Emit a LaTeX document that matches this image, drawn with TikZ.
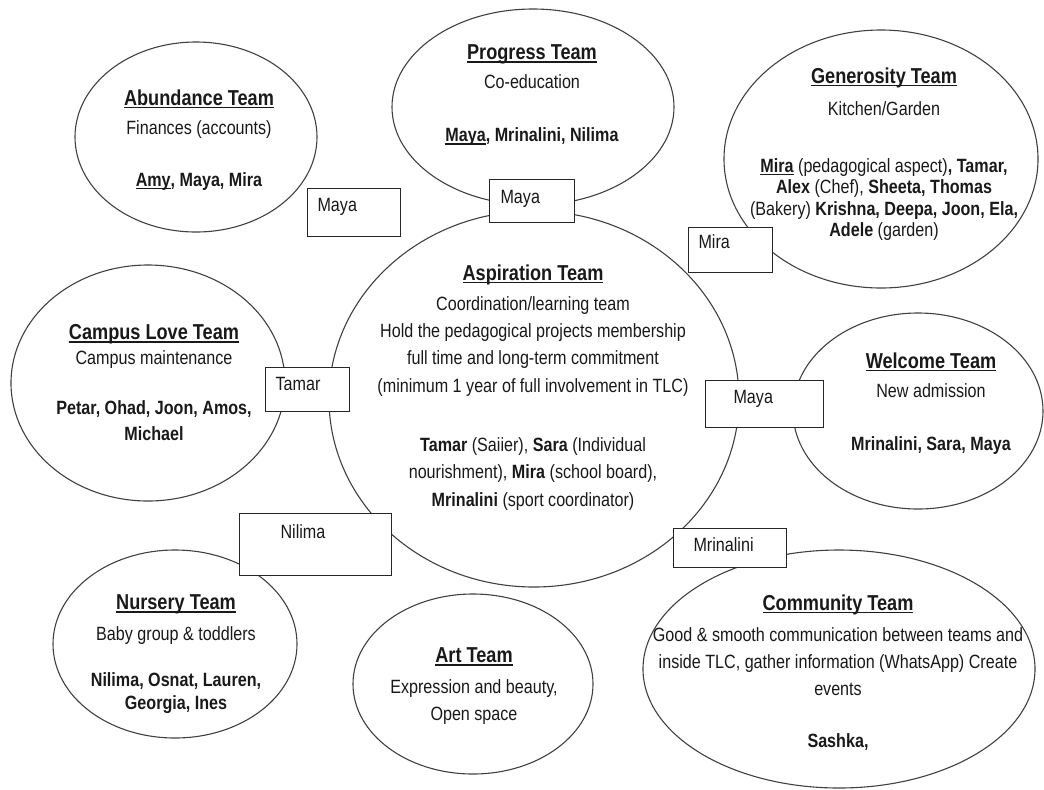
\documentclass[tikz,border=0pt]{standalone}
\usepackage{fontspec}
\setmainfont{Liberation Sans}[FakeStretch=0.84]
\usetikzlibrary{shapes.geometric}

% underline close to the baseline
\newcommand{\teamline}[1]{\leavevmode\setbox0\hbox{#1}\rlap{\rule[-1.7pt]{\wd0}{0.7pt}}\box0\relax}
\newcommand{\teamtitle}[1]{{\fontsize{10.8}{13}\selectfont\bfseries\teamline{#1}}}
\newcommand{\bodysize}[1]{\fontsize{9.6}{#1}\selectfont}

\begin{document}
\begin{tikzpicture}[x=0.5pt, y=-0.5pt,
    team/.style={ellipse, draw=black!75, line width=0.55pt, inner sep=0pt},
    teamtext/.style={anchor=north, align=center, inner sep=0pt, text=black!90},
    tagbox/.style={draw=black!85, fill=white, line width=0.55pt, anchor=north west,
                   align=left, font=\bodysize{12}, text=black!90, text height=6.7pt}]

    \useasboundingbox (0,0) rectangle (1044,789);

    % Team circles
    \node[team, minimum width=121pt, minimum height=95pt]  (abund)     at (196,137) {};
    \node[team, minimum width=141pt, minimum height=98pt]  (progress)  at (533,107) {};
    \node[team, minimum width=157pt, minimum height=129pt] (generous)  at (881,159) {};
    \node[team, minimum width=205pt, minimum height=188pt] (aspire)    at (534,399) {};
    \node[team, minimum width=137pt, minimum height=118pt] (campus)    at (148,383) {};
    \node[team, minimum width=125pt, minimum height=98pt]  (welcome)   at (918,411) {};
    \node[team, minimum width=122pt, minimum height=94pt]  (nursery)   at (175,644) {};
    \node[team, minimum width=120pt, minimum height=90pt]  (art)       at (473,684) {};
    \node[team, minimum width=196pt, minimum height=119pt] (community) at (839,669) {};

    % Link boxes
    \node[tagbox, inner xsep=5pt,   inner ysep=5pt,   text width=36.5pt, text depth=7.3pt]  (mayaleft)  at (307,188) {Maya};
    \node[tagbox, inner xsep=5.5pt, inner ysep=5.5pt, text width=31.5pt, text depth=3.8pt]  (mayatop)   at (489,179) {Maya};
    \node[tagbox, inner xsep=5pt,   inner ysep=4pt,   text width=32pt,   text depth=7.8pt]  (mirabox)   at (688,227) {Mira};
    \node[tagbox, inner xsep=5pt,   inner ysep=5pt,   text width=32pt,   text depth=5.3pt]  (tamarbox)  at (265,367) {Tamar};
    \node[tagbox, inner xsep=14pt,  inner ysep=5pt,   text width=31pt,   text depth=6.8pt]  (mayaright) at (705,380) {Maya};
    \node[tagbox, inner xsep=20.5pt,inner ysep=6pt,   text width=35pt,   text depth=12.3pt] (nilimabox) at (239,513) {Nilima};
    \node[tagbox, inner xsep=10pt,  inner ysep=5pt,   text width=36.5pt, text depth=2.8pt]  (mrinabox)  at (673,528) {Mrinalini};

    % Team texts (title top = baseline - 16)
    \node[teamtext, font=\bodysize{14.5}] (abundtext) at (199,89)
        {\teamtitle{Abundance Team}\\ Finances (accounts)\\[11.5pt]
         \teamline{\textbf{Amy}}\textbf{, Maya, Mira}};
    \node[teamtext, font=\bodysize{14.5}] (progresstext) at (532,44)
        {\teamtitle{Progress Team}\\ Co-education\\[12pt]
         \teamline{\textbf{Maya}}\textbf{, Mrinalini, Nilima}};
    \node[teamtext, font=\bodysize{10.8}] (generoustext) at (884,67)
        {\teamtitle{Generosity Team}\\[5.2pt] Kitchen/Garden\\[17.7pt]
         \teamline{\textbf{Mira}} (pedagogical aspect)\textbf{, Tamar,}\\
         \textbf{Alex} (Chef), \textbf{Sheeta, Thomas}\\
         (Bakery) \textbf{Krishna, Deepa, Joon, Ela,}\\
         \textbf{Adele} (garden)};
    \node[teamtext, font=\bodysize{13.7}] (aspiretext) at (533,264)
        {\teamtitle{Aspiration Team}\\[1.3pt] Coordination/learning team\\
         Hold the pedagogical projects membership\\
         full time and long-term commitment\\
         (minimum 1 year of full involvement in TLC)\\[15.8pt]
         \textbf{Tamar} (Saiier), \textbf{Sara} (Individual\\
         nourishment), \textbf{Mira} (school board),\\
         \textbf{Mrinalini} (sport coordinator)};
    \node[teamtext, font=\bodysize{13}] (campustext) at (154,324)
        {\teamtitle{Campus Love Team}\\[-0.5pt] Campus maintenance\\[12pt]
         \textbf{Petar, Ohad, Joon, Amos,}\\ \textbf{Michael}};
    \node[teamtext, font=\bodysize{14.5}] (welcometext) at (931,352)
        {\teamtitle{Welcome Team}\\ New admission\\[12pt]
         \textbf{Mrinalini, Sara, Maya}};
    \node[teamtext, font=\bodysize{11.5}] (nurserytext) at (176,594)
        {\teamtitle{Nursery Team}\\[4pt] Baby group \& toddlers\\[11.5pt]
         \textbf{Nilima, Osnat, Lauren,}\\ \textbf{Georgia, Ines}};
    \node[teamtext, font=\bodysize{13.5}] (arttext) at (474,647)
        {\teamtitle{Art Team}\\[2pt] Expression and beauty,\\ Open space};
    \node[teamtext, font=\bodysize{13.5}] (communitytext) at (838,594)
        {\teamtitle{Community Team}\\[2pt]
         Good \& smooth communication between teams and\\
         inside TLC, gather information (WhatsApp) Create\\
         events\\[12.5pt]
         \textbf{Sashka,}};

\end{tikzpicture}
\end{document}
